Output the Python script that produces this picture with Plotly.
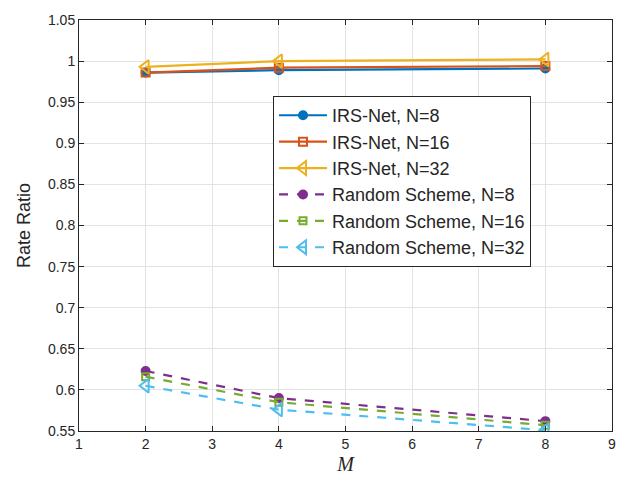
import plotly.graph_objects as go

# Number of antennas M on the x axis
m_values = [2, 4, 8]

# Rate ratio for each scheme
irs_net_n8 = [0.986, 0.989, 0.991]
irs_net_n16 = [0.986, 0.992, 0.994]
irs_net_n32 = [0.993, 1.000, 1.002]
random_n8 = [0.623, 0.590, 0.562]
random_n16 = [0.616, 0.585, 0.557]
random_n32 = [0.605, 0.576, 0.551]

series = [
    ("IRS-Net, N=8", irs_net_n8, "#0072BD", "solid", "circle", 8),
    ("IRS-Net, N=16", irs_net_n16, "#D95319", "solid", "square-open", 8),
    ("IRS-Net, N=32", irs_net_n32, "#EDB120", "solid", "triangle-left-open", 12),
    ("Random Scheme, N=8", random_n8, "#7E2F8E", "dash", "circle", 8),
    ("Random Scheme, N=16", random_n16, "#77AC30", "dash", "square-open", 7),
    ("Random Scheme, N=32", random_n32, "#4DBEEE", "dash", "triangle-left-open", 12),
]

fig = go.Figure()
for name, ys, color, dash, symbol, size in series:
    fig.add_trace(go.Scatter(
        x=m_values, y=ys, name=name, mode="lines+markers",
        line=dict(color=color, width=2.2, dash=dash),
        marker=dict(symbol=symbol, size=size, color=color,
                    line=dict(color=color, width=2)),
    ))

axis_common = dict(
    showgrid=True, gridcolor="#e3e3e3", gridwidth=1,
    showline=True, linecolor="#262626", linewidth=1, mirror="ticks",
    ticks="inside", ticklen=5, tickcolor="#262626",
    zeroline=False,
    tickfont=dict(family="Liberation Sans, Arial", size=14, color="#262626"),
)

fig.update_layout(
    width=640, height=486,
    margin=dict(l=79, r=28, t=12, b=55),
    paper_bgcolor="white", plot_bgcolor="white",
    xaxis=dict(range=[1, 9], dtick=1,
               title=dict(text="<i>M</i>", standoff=6,
                          font=dict(family="Liberation Serif, Times New Roman", size=20, color="#262626")),
               **axis_common),
    yaxis=dict(range=[0.55, 1.05],
               tickvals=[0.55, 0.6, 0.65, 0.7, 0.75, 0.8, 0.85, 0.9, 0.95, 1, 1.05],
               ticktext=["0.55", "0.6", "0.65", "0.7", "0.75", "0.8", "0.85", "0.9", "0.95", "1", "1.05"],
               title=dict(text="Rate Ratio", standoff=12,
                          font=dict(family="Liberation Sans, Arial", size=18, color="#262626")),
               **axis_common),
    legend=dict(x=0.364, y=0.815, xanchor="left", yanchor="top",
                bgcolor="white", bordercolor="#262626", borderwidth=1,
                font=dict(family="Liberation Sans, Arial", size=18, color="#262626"),
                tracegroupgap=0, itemwidth=48),
    showlegend=True,
)

fig.write_html("out.html")
